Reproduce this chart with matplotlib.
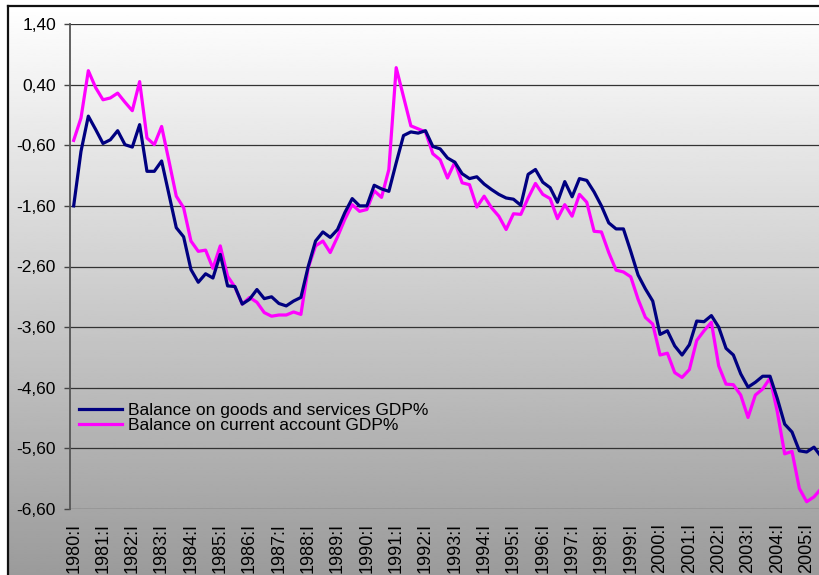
#!/usr/bin/env python3
"""US external balance as % of GDP, quarterly 1980-2005."""

import matplotlib

matplotlib.use("Agg")
import matplotlib.pyplot as plt
import numpy as np

plt.rcParams["font.family"] = ["Liberation Sans", "DejaVu Sans"]

YEARS = list(range(1980, 2006))
QUARTER_NAMES = ["I", "II", "III", "IV"]

GOODS_SERVICES = [
    -1.60, -0.70, -0.12, -0.34, -0.57, -0.51, -0.36, -0.59, -0.63, -0.26,
    -1.03, -1.03, -0.86, -1.41, -1.96, -2.11, -2.65, -2.86, -2.72, -2.79,
    -2.40, -2.92, -2.93, -3.22, -3.14, -2.98, -3.13, -3.10, -3.21, -3.25,
    -3.17, -3.11, -2.60, -2.18, -2.03, -2.12, -1.99, -1.71, -1.48, -1.60,
    -1.60, -1.26, -1.32, -1.36, -0.89, -0.44, -0.38, -0.40, -0.36, -0.62,
    -0.66, -0.81, -0.88, -1.07, -1.15, -1.12, -1.24, -1.33, -1.41, -1.47,
    -1.49, -1.59, -1.08, -1.00, -1.21, -1.30, -1.54, -1.20, -1.45, -1.15,
    -1.18, -1.37, -1.60, -1.88, -1.98, -1.98, -2.35, -2.74, -2.97, -3.17,
    -3.72, -3.66, -3.91, -4.06, -3.89, -3.50, -3.51, -3.41, -3.60, -3.95,
    -4.06, -4.37, -4.59, -4.51, -4.41, -4.41, -4.78, -5.20, -5.33, -5.64,
    -5.66, -5.58, -5.74,
]

CURRENT_ACCOUNT = [
    -0.52, -0.15, 0.63, 0.35, 0.15, 0.18, 0.26, 0.11, -0.03, 0.45,
    -0.48, -0.59, -0.29, -0.86, -1.44, -1.63, -2.18, -2.35, -2.33, -2.63,
    -2.26, -2.76, -2.94, -3.22, -3.11, -3.19, -3.36, -3.42, -3.40, -3.40,
    -3.35, -3.39, -2.62, -2.26, -2.18, -2.37, -2.11, -1.82, -1.58, -1.69,
    -1.66, -1.35, -1.46, -1.00, 0.68, 0.20, -0.28, -0.33, -0.38, -0.74,
    -0.84, -1.14, -0.88, -1.22, -1.25, -1.62, -1.44, -1.63, -1.77, -1.99,
    -1.73, -1.74, -1.47, -1.23, -1.41, -1.48, -1.81, -1.58, -1.77, -1.41,
    -1.54, -2.02, -2.03, -2.37, -2.66, -2.69, -2.77, -3.14, -3.44, -3.55,
    -4.06, -4.03, -4.35, -4.43, -4.30, -3.82, -3.66, -3.52, -4.24, -4.54,
    -4.55, -4.72, -5.09, -4.72, -4.62, -4.44, -5.00, -5.69, -5.65, -6.26,
    -6.48, -6.40, -6.26,
]

Y_TICKS = [1.40, 0.40, -0.60, -1.60, -2.60, -3.60, -4.60, -5.60, -6.60]

W, H = 820, 575

quarters = [f"{y}:{q}" for y in YEARS for q in QUARTER_NAMES][: len(GOODS_SERVICES)]
n = len(quarters)

fig = plt.figure(figsize=(W / 100, H / 100), dpi=100, facecolor="white")

# gradient chart area with a border on the visible left/top edges
bg = fig.add_axes([8 / W, -0.02, 1.0, 1 - 6 / H + 0.02], zorder=-1)
grad = np.linspace(1.0, 0.60, 256).reshape(-1, 1)
bg.imshow(grad, cmap="gray", vmin=0, vmax=1, aspect="auto",
          extent=[0, 1, 0, 1], interpolation="bilinear")
bg.set_xticks([])
bg.set_yticks([])
for side in ("right", "bottom"):
    bg.spines[side].set_visible(False)
for side in ("left", "top"):
    bg.spines[side].set_linewidth(1.6)
    bg.spines[side].set_color("#111111")

px_per_q = 7.33
left_px, top_px, bottom_px = 70, 24, 509
ax = fig.add_axes([left_px / W, (H - bottom_px) / H,
                   n * px_per_q / W, (bottom_px - top_px) / H])
ax.set_facecolor("none")

x = np.arange(n)
ax.plot(x, GOODS_SERVICES, color="#000080", linewidth=2.3,
        label="Balance on goods and services GDP%", zorder=3)
ax.plot(x, CURRENT_ACCOUNT, color="#ff00ff", linewidth=2.3,
        label="Balance on current account GDP%", zorder=2)

ax.set_xlim(-0.5, n - 0.5)
ax.set_ylim(-6.60, 1.40)
ax.set_yticks(Y_TICKS)
ax.set_yticklabels([f"{v:.2f}".replace(".", ",") for v in Y_TICKS], fontsize=12.5)
ax.tick_params(axis="y", length=4, width=1, color="#444444", pad=6)

year_pos = [i for i, q in enumerate(quarters) if q.endswith(":I")]
ax.set_xticks(year_pos)
ax.set_xticklabels([quarters[i] for i in year_pos], rotation=90, fontsize=13,
                   va="top", ha="center")
ax.tick_params(axis="x", length=0, pad=10)

ax.grid(axis="y", color="#333333", linewidth=0.9)
ax.set_axisbelow(True)
for side in ("top", "right", "bottom"):
    ax.spines[side].set_visible(False)
ax.spines["left"].set_color("#555555")
ax.spines["left"].set_linewidth(1.3)

ax.legend(loc="upper left", bbox_to_anchor=(79 / W, 1 - 403 / H),
          bbox_transform=fig.transFigure, frameon=False, fontsize=12.5,
          borderpad=0, borderaxespad=0, handlelength=2.5, handletextpad=0.35,
          labelspacing=0.0)

fig.savefig("out.png", dpi=100, facecolor="white")
